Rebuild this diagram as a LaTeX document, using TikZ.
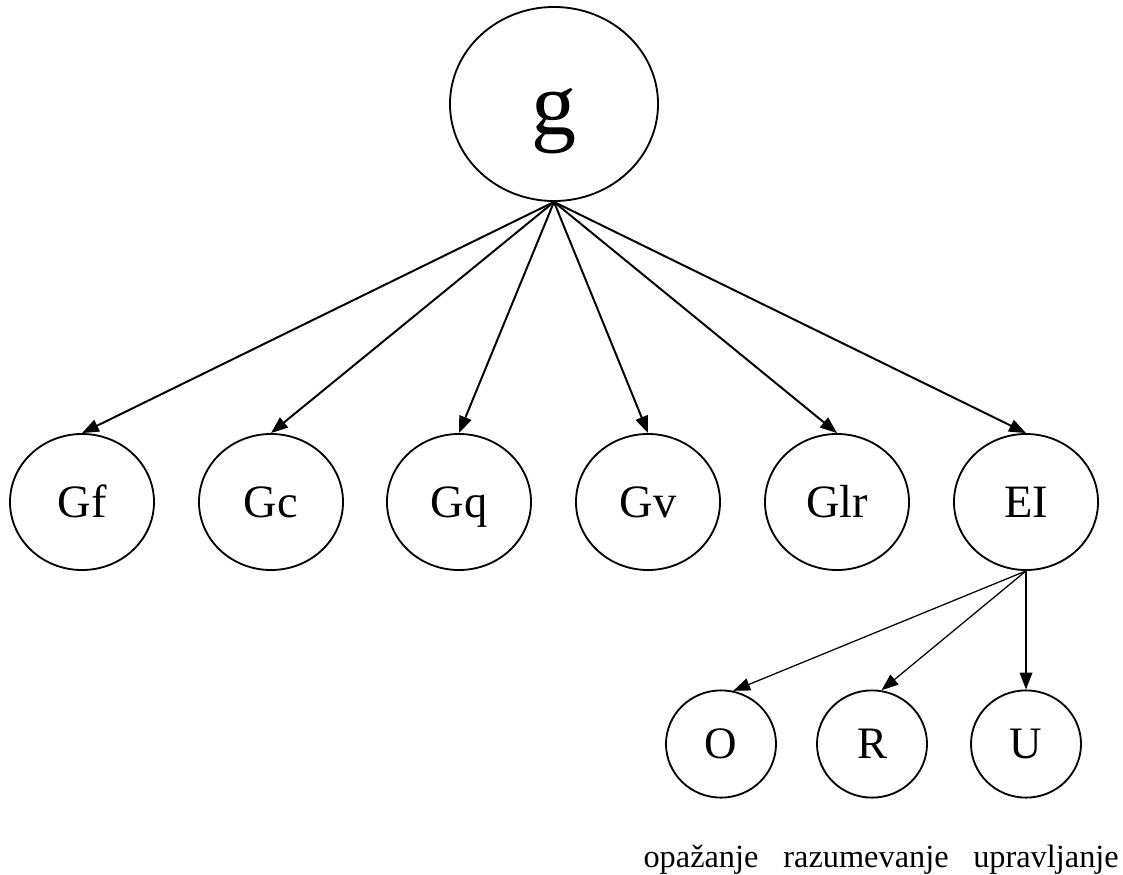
\documentclass[tikz,border=0pt]{standalone}
\usepackage{fontspec}
\setmainfont{Liberation Serif}
\usetikzlibrary{shapes.geometric,arrows.meta}

\tikzset{
    factor/.style={draw, ellipse, line width=1.3pt, inner sep=0pt, text depth=0pt},
    gnode/.style={factor, minimum width=5.2cm, minimum height=4.85cm, text height=44pt, font=\fontsize{64}{64}\selectfont},
    broad/.style={factor, minimum width=3.6cm, minimum height=3.4cm, text height=22pt, font=\fontsize{33}{33}\selectfont},
    narrow/.style={factor, minimum width=2.75cm, minimum height=2.68cm, text height=21pt, font=\fontsize{32}{32}\selectfont},
    load/.style={line width=1.4pt, -{Triangle[length=12pt,width=9pt]}},
    subload/.style={line width=0.9pt, -{Triangle[length=12pt,width=9pt]}},
    caption/.style={font=\fontsize{23}{23}\selectfont, inner sep=0pt, anchor=base}
}

\begin{document}
\begin{tikzpicture}[x=0.025cm, y=-0.025cm]
        \useasboundingbox (0, 0) rectangle (1123, 874);

        % General factor
        \node[gnode] (g) at (554, 104) {g};

        % Broad abilities
        \foreach \name/\x in {Gf/82, Gc/271, Gq/459, Gv/648, Glr/837, EI/1026} {
            \node[broad] (\name) at (\x, 502) {\name};
            \draw[load] (g.south) -- (\name.north);
        }

        % Branches of EI
        \node[narrow] (O) at (721, 744) {O};
        \node[narrow] (R) at (872, 744) {R};
        \node[narrow] (U) at (1026, 744) {U};
        \draw[subload] (EI.south) -- (O.77);
        \draw[subload] (EI.south) -- (R.80);
        \draw[subload] (EI.south) -- (U.north);

        %% labels
        \node[caption] (opazanje) at (701, 867) {opažanje};
        \node[caption] (razumevanje) at (866, 867) {razumevanje};
        \node[caption] (upravljanje) at (1046, 867) {upravljanje};

    \end{tikzpicture}
\end{document}
